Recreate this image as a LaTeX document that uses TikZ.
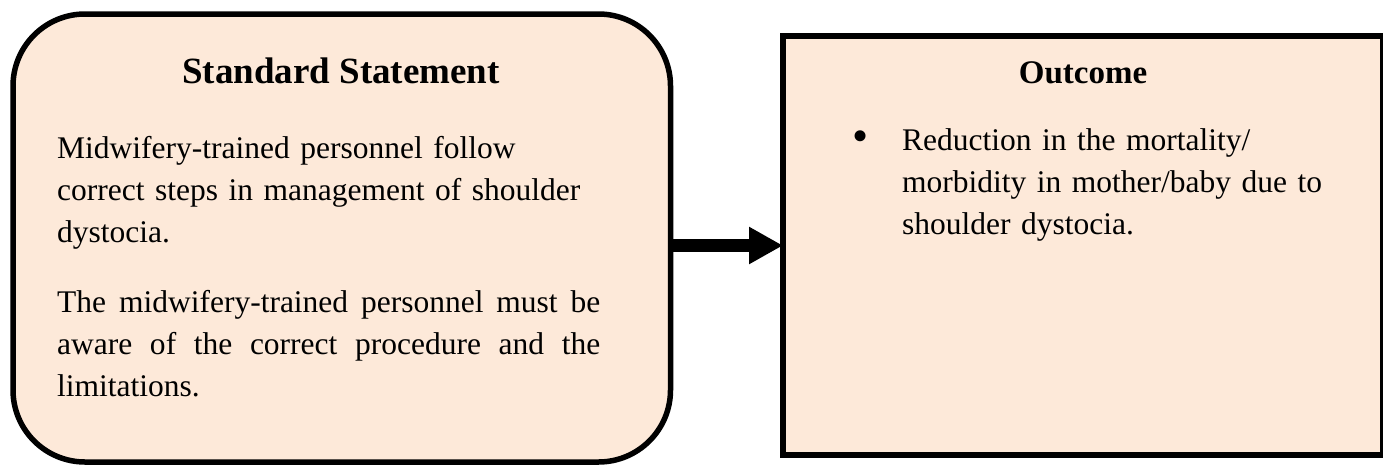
\documentclass[tikz,border=0pt]{standalone}
\usepackage{fontspec}
\setmainfont{Liberation Serif}
\usetikzlibrary{arrows.meta}
\definecolor{peach}{HTML}{FDE9D9}
\begin{document}
\begin{tikzpicture}[x=1pt,y=-1pt,
  panel/.style={draw=black, line width=5.5pt, fill=peach, inner sep=0pt, outer sep=0pt},
  heading/.style={anchor=base, inner sep=0pt, font=\bfseries\fontsize{37}{42}\selectfont},
  subheading/.style={anchor=base, inner sep=0pt, font=\bfseries\fontsize{33}{42}\selectfont},
  body/.style={anchor=base west, inner sep=0pt, font=\fontsize{31.5}{42}\selectfont},
  flow/.style={line width=13pt, -{Triangle[length=34pt,width=35pt]}}]
\useasboundingbox (0,0) rectangle (1383,466);

% the two panels
\node[panel, rounded corners=72pt, minimum width=657.5pt, minimum height=448pt] (std) at (341.75,238) {};
\node[panel, minimum width=600pt, minimum height=419pt] (out) at (1083,245.5) {};

% connector
\draw[flow] (std.east |- out.west) -- (out.west);

% left panel text
\node[heading] (stdtitle) at (341,83) {Standard Statement};
\node[body, text width=543pt, align=left] (stdpara1) at (57,158)
  {Midwifery-trained personnel follow\\correct steps in management of shoulder\\dystocia.};
\node[body, text width=543pt, align=justify] (stdpara2) at (57,312)
  {\hyphenpenalty=10000 \exhyphenpenalty=10000
   The midwifery-trained personnel must be\linebreak aware of the correct procedure and the\linebreak limitations.};

% right panel text
\node[subheading] (outtitle) at (1083,83) {Outcome};
\node[inner sep=0pt, font=\fontsize{46}{46}\selectfont] (outbullet) at (861,141) {•};
\node[body, text width=460pt, align=left] (outtext) at (902,150)
  {Reduction in the mortality/\\morbidity in mother/baby due to\\shoulder dystocia.};
\end{tikzpicture}
\end{document}
